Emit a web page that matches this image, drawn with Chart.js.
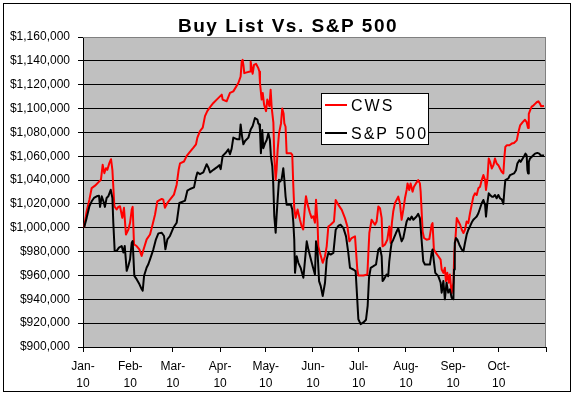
<!DOCTYPE html>
<html>
<head>
<meta charset="utf-8">
<title>Buy List Vs. S&amp;P 500</title>
<script src="https://cdn.jsdelivr.net/npm/chart.js@4.4.0/dist/chart.umd.min.js"></script>
<style>
  html, body { margin: 0; padding: 0; background: #fff; }
  canvas { display: block; }
</style>
</head>
<body>
<canvas id="chart" width="575" height="398"></canvas>
<script>

const monthStarts = [0, 31, 59, 90, 120, 151, 181, 212, 243, 273, 304];
const monthLabels = ['Jan', 'Feb', 'Mar', 'Apr', 'May', 'Jun', 'Jul', 'Aug', 'Sep', 'Oct', ''];
const yearLabel = '10';

const cwsDays = [
    0.7, 2.4, 4.2, 5.7, 7.9, 10.7, 11.8, 12.9, 14.0, 15.1, 16.0, 17.3, 18.4, 19.3, 20.6, 22.1,
    23.2, 24.3, 25.8, 26.9, 28.2, 29.8, 30.9, 32.0, 32.6, 33.5, 35.2, 37.0, 38.5, 40.1, 41.8, 44.0,
    45.7, 47.3, 48.8, 51.7, 52.7, 53.8, 55.4, 57.1, 59.7, 61.5, 62.8, 63.7, 66.3, 68.1, 69.8, 72.5,
    74.2, 75.1, 76.8, 78.6, 80.1, 81.6, 83.8, 85.6, 87.8, 91.1, 91.7, 94.3, 96.5, 98.7, 102.0, 103.5,
    104.2, 104.8, 105.3, 105.9, 107.5, 109.7, 110.1, 110.8, 111.4, 112.3, 113.6, 115.1, 115.8, 116.2, 117.3, 118.0,
    118.9, 120.2, 121.0, 122.4, 123.2, 123.9, 125.0, 125.6, 126.5, 127.1, 127.8, 128.7, 130.0, 130.8, 131.7, 132.2,
    133.0, 133.7, 136.5, 137.4, 138.1, 138.7, 139.6, 140.9, 142.4, 143.5, 144.6, 145.7, 146.4, 147.5, 149.0, 150.1,
    151.2, 152.3, 153.0, 154.0, 154.5, 155.6, 157.4, 158.9, 160.0, 161.1, 162.6, 164.8, 165.9, 167.7, 169.9, 172.0,
    173.6, 174.9, 176.4, 178.6, 180.1, 180.8, 184.1, 186.7, 188.0, 189.5, 191.7, 192.8, 193.9, 195.0, 196.1, 196.7,
    198.2, 199.8, 201.1, 202.0, 202.8, 203.7, 204.8, 205.9, 207.0, 208.1, 209.2, 210.3, 211.4, 212.5, 213.1, 214.2,
    215.1, 216.4, 217.3, 218.6, 220.1, 221.2, 221.7, 222.3, 223.0, 223.9, 225.6, 227.4, 228.9, 229.5, 230.4, 231.7,
    233.3, 234.8, 235.5, 236.6, 237.6, 238.3, 239.2, 240.1, 240.9, 242.0, 243.2, 243.8, 244.5, 245.4, 246.5, 247.6,
    248.7, 249.8, 250.8, 251.9, 253.0, 254.1, 255.2, 256.3, 257.4, 258.5, 259.6, 260.7, 261.8, 262.9, 264.0, 264.6,
    265.5, 266.4, 267.3, 268.4, 269.5, 270.5, 271.6, 272.7, 273.8, 274.9, 276.0, 276.7, 277.3, 278.2, 280.0, 281.5,
    283.0, 284.8, 285.9, 287.0, 288.7, 290.2, 291.3, 292.2, 292.7, 293.5, 294.6, 295.7, 296.8, 297.9, 299.0, 300.1,
    300.8, 302.7
];
const cwsValues = [
    1000000, 1013900, 1023600, 1033300, 1035300, 1038900, 1040300, 1052800, 1045800, 1050000, 1048600, 1054200, 1057500, 1048600, 1018000, 1015300,
    1017500, 1018000, 1008300, 1016700, 994400, 998600, 1004200, 1015300, 1017500, 986100, 984700, 981900, 976400, 983300, 990300, 994400,
    1002800, 1011100, 1022200, 1024200, 1023600, 1016700, 1020800, 1023600, 1027800, 1036100, 1048600, 1054000, 1055600, 1060300, 1063000, 1067200,
    1070000, 1075600, 1081100, 1083900, 1093600, 1097800, 1101900, 1104700, 1107500, 1111700, 1107500, 1106100, 1113100, 1114400, 1121400, 1126900,
    1139400, 1140800, 1136700, 1129700, 1130300, 1131100, 1139400, 1133900, 1129200, 1136700, 1137500, 1133900, 1131100, 1121400, 1107500, 1113100,
    1103300, 1097800, 1107500, 1101900, 1115800, 1100600, 1088100, 1059700, 1040300, 1048600, 1065300, 1079200, 1087500, 1100000, 1095800, 1087500,
    1084700, 1062500, 1062500, 1061100, 1034700, 1016700, 1008300, 1015300, 1006900, 1001400, 998600, 1018000, 1026400, 1019400, 1012500, 1008300,
    1009700, 1004200, 1023600, 1004200, 984400, 978900, 970600, 976100, 984400, 1001100, 1002500, 1005300, 1023300, 1019200, 1015000, 1008100,
    1001100, 988600, 991400, 992800, 965000, 960000, 960000, 960800, 995600, 1006700, 1002500, 1005300, 1017800, 1016400, 1008100, 984400,
    985800, 990000, 1001100, 987200, 1003900, 1013600, 1020600, 1023300, 1026100, 1020600, 1006700, 1015000, 1024700, 1031700, 1037200, 1031700,
    1037200, 1030300, 1034400, 1037200, 1040000, 1037200, 1030300, 1015000, 996900, 991400, 990000, 990600, 1002500, 1003900, 981700, 978900,
    976100, 973300, 965000, 962200, 966400, 955300, 962200, 953900, 960800, 945000, 953900, 978900, 990000, 1008100, 1005300, 1002500,
    998300, 995600, 998300, 1005300, 1003900, 1012200, 1019200, 1026100, 1028900, 1027500, 1033100, 1034400, 1040000, 1044200, 1040000, 1031700,
    1040000, 1058100, 1055300, 1049700, 1052500, 1058100, 1053900, 1052500, 1049700, 1046900, 1045600, 1059400, 1067800, 1069200, 1069200, 1070600,
    1071100, 1073300, 1080300, 1085800, 1088600, 1090600, 1088600, 1083600, 1095600, 1098300, 1101700, 1102500, 1103900, 1105300, 1106100, 1103900,
    1101900, 1102200
];

const spxDays = [
    0.7, 2.4, 4.2, 5.7, 7.2, 9.0, 10.5, 11.2, 12.3, 13.4, 14.4, 15.5, 16.6, 18.2, 19.3, 19.9,
    20.8, 22.1, 23.6, 25.4, 26.5, 27.4, 28.7, 29.8, 30.9, 32.0, 32.6, 33.7, 35.2, 37.0, 38.5, 39.2,
    40.1, 41.8, 42.9, 44.4, 46.2, 47.9, 49.5, 51.7, 53.2, 54.1, 55.4, 57.1, 59.3, 61.5, 63.3, 65.9,
    67.0, 68.5, 70.3, 72.9, 74.2, 75.1, 76.8, 79.0, 81.2, 82.3, 83.4, 85.6, 87.8, 89.5, 90.4, 91.7,
    93.9, 95.4, 96.5, 97.6, 98.7, 101.3, 102.7, 103.5, 104.4, 105.3, 106.4, 108.6, 110.1, 111.4, 112.9, 114.5,
    115.1, 115.8, 116.2, 116.8, 117.7, 118.4, 119.5, 120.6, 121.7, 122.7, 123.4, 124.3, 124.9, 125.6, 126.5, 127.1,
    127.8, 128.7, 129.5, 130.4, 131.5, 132.2, 133.0, 133.7, 136.5, 137.4, 138.1, 138.7, 139.2, 140.3, 141.4, 142.9,
    144.7, 145.8, 146.9, 148.0, 149.1, 150.8, 152.3, 153.0, 153.9, 155.0, 156.1, 157.4, 158.9, 160.0, 161.1, 162.6,
    164.4, 165.9, 167.7, 169.2, 171.0, 172.7, 174.2, 175.3, 177.5, 179.0, 179.7, 180.8, 182.3, 184.1, 185.8, 186.9,
    187.8, 188.9, 190.7, 192.4, 193.9, 195.0, 196.1, 196.7, 197.6, 199.3, 200.4, 201.1, 202.0, 202.6, 203.7, 205.5,
    207.0, 208.1, 209.2, 210.3, 211.4, 212.5, 213.6, 214.7, 215.8, 216.9, 219.0, 220.1, 221.2, 222.3, 223.4, 224.5,
    227.8, 228.9, 229.5, 230.4, 231.3, 233.3, 234.8, 235.5, 236.6, 237.6, 238.7, 239.8, 240.9, 242.0, 243.2, 243.6,
    244.1, 244.9, 245.8, 247.1, 248.7, 249.8, 250.8, 251.9, 253.0, 254.1, 255.2, 256.3, 257.4, 258.5, 259.6, 260.7,
    261.8, 262.9, 264.0, 264.6, 265.5, 266.4, 267.3, 268.4, 269.5, 270.5, 271.6, 272.7, 273.8, 274.9, 276.0, 276.7,
    277.3, 279.3, 280.4, 283.0, 284.3, 285.2, 286.5, 287.4, 288.7, 289.6, 290.5, 291.3, 291.8, 292.2, 292.7, 293.5,
    295.7, 296.8, 298.3, 299.6, 300.5, 302.7
];
const spxValues = [
    1000000, 1008300, 1018000, 1022200, 1025000, 1026400, 1026900, 1017500, 1026400, 1022200, 1017500, 1025000, 1026400, 1031900, 1025000, 1004200,
    980600, 980600, 983300, 984700, 979200, 984700, 963900, 968100, 973600, 987500, 988900, 959700, 956900, 952800, 948600, 947200,
    959700, 966700, 969400, 975000, 981900, 990300, 995300, 995800, 993100, 981900, 990300, 993100, 1000000, 1004200, 1020800, 1022200,
    1022800, 1031100, 1032500, 1033900, 1042200, 1046400, 1045000, 1046400, 1053300, 1050600, 1046400, 1048600, 1050600, 1052500, 1049200, 1060300,
    1063100, 1065800, 1061700, 1066400, 1075600, 1074200, 1074200, 1086700, 1076900, 1070000, 1072800, 1075600, 1082500, 1085300, 1092000, 1090800,
    1087500, 1086700, 1081900, 1062500, 1081900, 1066700, 1070800, 1073600, 1079200, 1073600, 1059700, 1051400, 1037500, 1009700, 995800, 1009700,
    1023600, 1040300, 1038900, 1040300, 1050000, 1040300, 1026400, 1019400, 1019400, 1015300, 1004200, 990300, 962200, 976100, 970600, 966400,
    958100, 973300, 988600, 981700, 976100, 967800, 960800, 988600, 981700, 955300, 951100, 942800, 953900, 973300, 978900, 977500,
    978900, 998300, 1001700, 1002500, 999700, 992800, 978900, 966400, 965000, 963600, 948300, 923300, 919200, 920600, 922800, 934400,
    958100, 966400, 967800, 969200, 981700, 983100, 976100, 955300, 956700, 960800, 959400, 971900, 981700, 987200, 990000, 995600,
    999700, 994200, 988600, 991400, 998300, 1005300, 1008100, 1006700, 1009400, 1006700, 1009400, 1011700, 1008100, 990000, 971900, 969200,
    969200, 978900, 981700, 971900, 962200, 959400, 953900, 945600, 955300, 940000, 953900, 945600, 948300, 941400, 940000, 965000,
    987200, 991400, 990000, 985800, 981700, 980300, 987200, 994200, 998300, 1001100, 1004400, 1006700, 1008100, 1009400, 1012200, 1016400,
    1020600, 1023300, 1019200, 1009400, 1020600, 1028900, 1027500, 1026100, 1026100, 1027500, 1024700, 1027500, 1024700, 1023900, 1020000, 1031700,
    1040000, 1041400, 1044200, 1045600, 1048300, 1053900, 1056700, 1055300, 1058100, 1060000, 1062200, 1060800, 1048300, 1045600, 1055300, 1058100,
    1060800, 1062200, 1062800, 1062200, 1060800, 1060600
];

Chart.defaults.font.family = "'Liberation Sans', Arial, sans-serif";
Chart.defaults.color = '#000';

// Excel style frame: white page with black border, gray plot area, legend box and title
const excelFrame = {
    id: 'excelFrame',
    beforeDraw(chart) {
        const { ctx, chartArea: a } = chart;
        ctx.save();
        ctx.fillStyle = '#ffffff';
        ctx.fillRect(0, 0, chart.width, chart.height);
        ctx.strokeStyle = '#000';
        ctx.lineWidth = 1;
        ctx.strokeRect(3.5, 3.5, 567, 388);
        ctx.fillStyle = '#c0c0c0';
        ctx.fillRect(a.left, a.top, a.right - a.left, a.bottom - a.top);
        ctx.restore();
    },
    beforeDatasetsDraw(chart) {
        const { ctx, chartArea: a } = chart;
        const top = Math.round(a.top) + 0.5;
        const right = Math.round(a.right) - 0.5;
        ctx.save();
        ctx.strokeStyle = '#808080';
        ctx.lineWidth = 1;
        ctx.beginPath();
        ctx.moveTo(a.left, top);
        ctx.lineTo(right, top);
        ctx.lineTo(right, a.bottom);
        ctx.stroke();
        ctx.restore();
    },
    afterDraw(chart) {
        const { ctx } = chart;
        ctx.save();

        // title
        ctx.fillStyle = '#000';
        ctx.font = "bold 19px 'Liberation Sans', Arial, sans-serif";
        ctx.letterSpacing = '1.5px';
        ctx.textAlign = 'center';
        ctx.textBaseline = 'alphabetic';
        ctx.fillText('Buy List Vs. S&P 500', 288, 32);

        // legend box
        ctx.fillStyle = '#fff';
        ctx.fillRect(321, 93, 107, 52);
        ctx.strokeStyle = '#000';
        ctx.lineWidth = 1;
        ctx.strokeRect(321.5, 93.5, 107, 51);

        ctx.font = "16px 'Liberation Sans', Arial, sans-serif";
        ctx.letterSpacing = '2px';
        ctx.textAlign = 'left';
        const rows = [105, 133];
        chart.data.datasets.forEach((ds, i) => {
            const y = rows[i];
            ctx.strokeStyle = ds.borderColor;
            ctx.lineWidth = 2;
            ctx.beginPath();
            ctx.moveTo(325, y);
            ctx.lineTo(347, y);
            ctx.stroke();
            ctx.fillStyle = '#000';
            ctx.fillText(ds.label, 351, y + 6);
        });
        ctx.restore();
    }
};

const toPoints = (days, values) => days.map((d, i) => ({ x: d, y: values[i] }));

new Chart(document.getElementById('chart'), {
    type: 'line',
    data: {
        datasets: [
            {
                label: 'CWS',
                data: toPoints(cwsDays, cwsValues),
                borderColor: '#ff0000',
                borderWidth: 2,
                pointRadius: 0,
                borderJoinStyle: 'round',
                order: 1
            },
            {
                label: 'S&P 500',
                data: toPoints(spxDays, spxValues),
                borderColor: '#000000',
                borderWidth: 2,
                pointRadius: 0,
                borderJoinStyle: 'round',
                order: 0
            }
        ]
    },
    plugins: [excelFrame],
    options: {
        responsive: false,
        animation: false,
        devicePixelRatio: 1,
        layout: { padding: { top: 37, left: 4, right: 29, bottom: 0 } },
        plugins: {
            legend: { display: false },
            title: { display: false },
            tooltip: { enabled: false }
        },
        scales: {
            x: {
                type: 'linear',
                min: 0,
                max: 304,
                afterBuildTicks: (scale) => {
                    scale.ticks = monthStarts.map(v => ({ value: v }));
                },
                afterFit: (scale) => { scale.height = 51; },
                ticks: {
                    autoSkip: false,
                    maxRotation: 0,
                    padding: 6,
                    font: { size: 12, lineHeight: 1.4 },
                    callback: (value, index) => monthLabels[index] ? [monthLabels[index] + '-', yearLabel] : ''
                },
                grid: { drawOnChartArea: false, tickLength: 5, color: '#000' },
                border: { color: '#000', width: 1 }
            },
            y: {
                min: 900000,
                max: 1160000,
                afterFit: (scale) => { scale.width = 79; },
                ticks: {
                    stepSize: 20000,
                    padding: 8,
                    font: { size: 12 },
                    callback: (value) => '$' + value.toLocaleString('en-US')
                },
                grid: {
                    color: (ctx) => ctx.tick && ctx.tick.value === 1160000 ? '#808080' : '#000',
                    tickColor: '#000',
                    tickLength: 5,
                    lineWidth: 1
                },
                border: { color: '#000', width: 1 }
            }
        }
    }
});
</script>
</body>
</html>
